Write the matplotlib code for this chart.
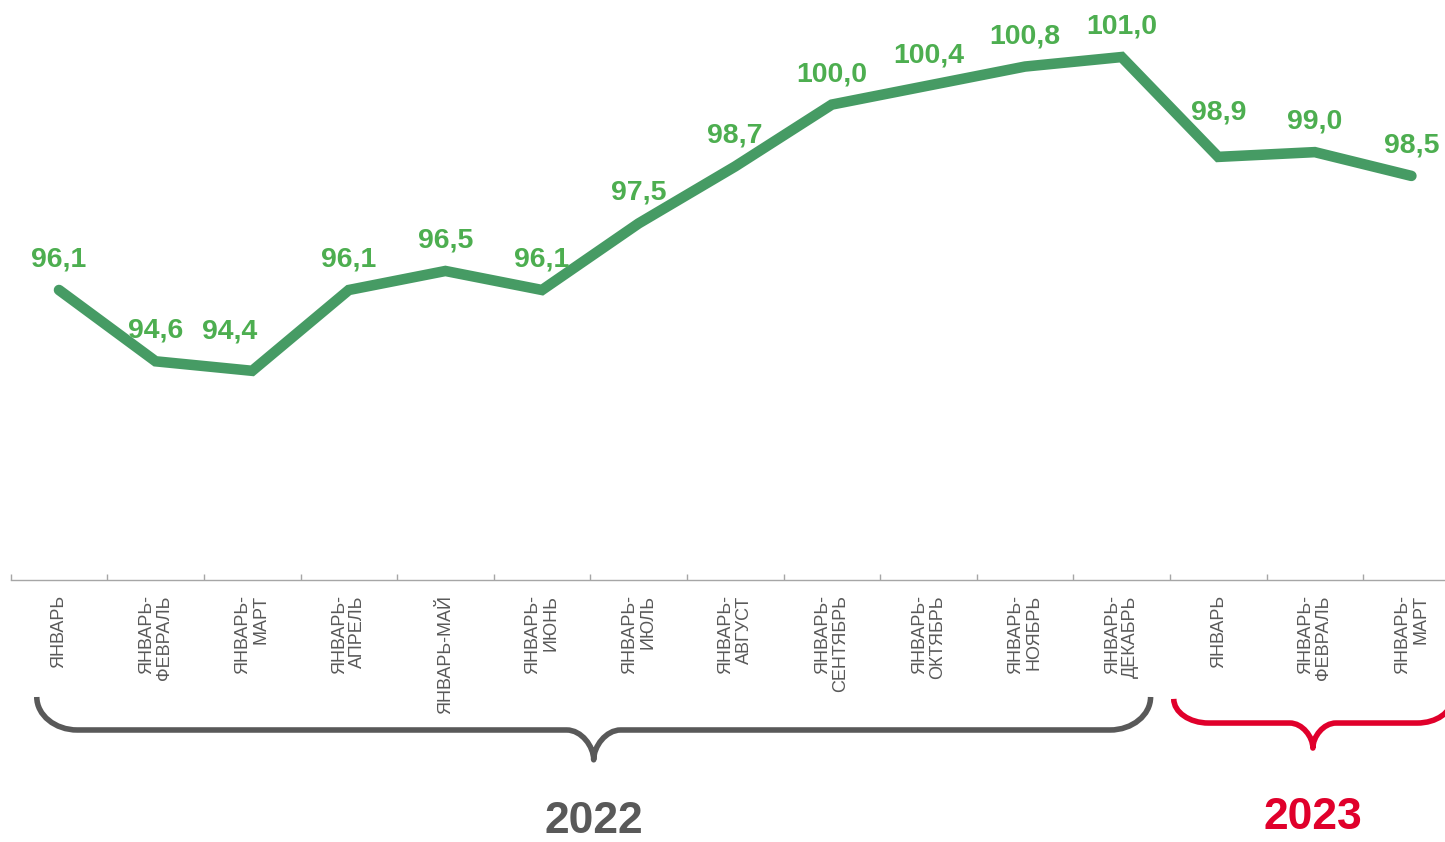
import matplotlib
matplotlib.use("Agg")
import matplotlib.pyplot as plt
import matplotlib.transforms as mtransforms
from matplotlib.path import Path
from matplotlib.patches import PathPatch

plt.rcParams['font.family'] = ['Liberation Sans', 'DejaVu Sans']

periods = ["ЯНВАРЬ", "ЯНВАРЬ-\nФЕВРАЛЬ", "ЯНВАРЬ-\nМАРТ", "ЯНВАРЬ-\nАПРЕЛЬ", "ЯНВАРЬ-МАЙ",
           "ЯНВАРЬ-\nИЮНЬ", "ЯНВАРЬ-\nИЮЛЬ", "ЯНВАРЬ-\nАВГУСТ", "ЯНВАРЬ-\nСЕНТЯБРЬ",
           "ЯНВАРЬ-\nОКТЯБРЬ", "ЯНВАРЬ-\nНОЯБРЬ", "ЯНВАРЬ-\nДЕКАБРЬ",
           "ЯНВАРЬ", "ЯНВАРЬ-\nФЕВРАЛЬ", "ЯНВАРЬ-\nМАРТ"]
values = [96.1, 94.6, 94.4, 96.1, 96.5, 96.1, 97.5, 98.7, 100.0, 100.4, 100.8, 101.0,
          98.9, 99.0, 98.5]
years = ["2022", "2023"]

line_col = "#469b64"
label_col = "#4dae50"
gray = "#595959"
red = "#e0002b"

# label nudges (points): index -> (dx, dy)
nudge = {2: (-16, 6), 12: (0, 10)}

fig = plt.figure(figsize=(14.45, 8.42), dpi=100)
ax = fig.add_axes([10.7 / 1445, 262 / 842, 1449 / 1445, 580 / 842])

x = list(range(len(values)))
ax.plot(x, values, color=line_col, lw=7.6, solid_capstyle='round', solid_joinstyle='miter')

for i, v in enumerate(values):
    dx, dy = nudge.get(i, (0, 0))
    ax.annotate(f"{v:.1f}".replace(".", ","), (i, v), xytext=(dx, 22 + dy),
                textcoords='offset points', ha='center', va='center',
                fontsize=20.5, fontweight='bold', color=label_col)

ax.set_xlim(-0.5, len(values) - 0.5)
ax.set_ylim(90, 102.2)
for s in ['top', 'right', 'left']:
    ax.spines[s].set_visible(False)
ax.spines['bottom'].set_color("#a6a6a6")
ax.spines['bottom'].set_linewidth(1.0)
ax.set_yticks([])
ax.set_xticks(x)
ax.set_xticklabels(periods, rotation=90, va='top', ha='center', multialignment='right',
                   fontsize=13, color=gray, linespacing=1.1)
ax.tick_params(axis='x', which='major', length=0, pad=11)
ax.set_xticks([i - 0.5 for i in range(len(values) + 1)], minor=True)
ax.tick_params(axis='x', which='minor', length=4.5, direction='in', color="#a6a6a6", width=1)

trans = mtransforms.blended_transform_factory(ax.transData, ax.transAxes)


def brace(x0, x1, ytop, yh, ytip, r, r2, color):
    xm = (x0 + x1) / 2
    k = 0.55
    verts = [(x0, ytop),
             (x0, ytop + k * (yh - ytop)), (x0 + r * (1 - k), yh), (x0 + r, yh),
             (xm - r2, yh),
             (xm - r2 * (1 - k), yh), (xm, yh + k * (ytip - yh)), (xm, ytip),
             (xm, yh + k * (ytip - yh)), (xm + r2 * (1 - k), yh), (xm + r2, yh),
             (x1 - r, yh),
             (x1 - r * (1 - k), yh), (x1, ytop + k * (yh - ytop)), (x1, ytop)]
    codes = [Path.MOVETO, Path.CURVE4, Path.CURVE4, Path.CURVE4, Path.LINETO,
             Path.CURVE4, Path.CURVE4, Path.CURVE4, Path.CURVE4, Path.CURVE4, Path.CURVE4,
             Path.LINETO, Path.CURVE4, Path.CURVE4, Path.CURVE4]
    p = PathPatch(Path(verts, codes), transform=trans, fill=False, edgecolor=color,
                  lw=4, capstyle='butt', joinstyle='round', clip_on=False)
    ax.add_patch(p)
    return xm


m1 = brace(-0.23, 11.3, -0.2017, -0.2586, -0.310, 0.42, 0.28, gray)
m2 = brace(11.54, 14.42, -0.205, -0.2466, -0.2897, 0.36, 0.24, red)

ax.text(m1, -0.417, years[0], transform=trans, ha='center', va='center',
        fontsize=32, fontweight='bold', color=gray)
ax.text(m2, -0.409, years[1], transform=trans, ha='center', va='center',
        fontsize=32, fontweight='bold', color=red)

fig.savefig("out.png", dpi=100)
